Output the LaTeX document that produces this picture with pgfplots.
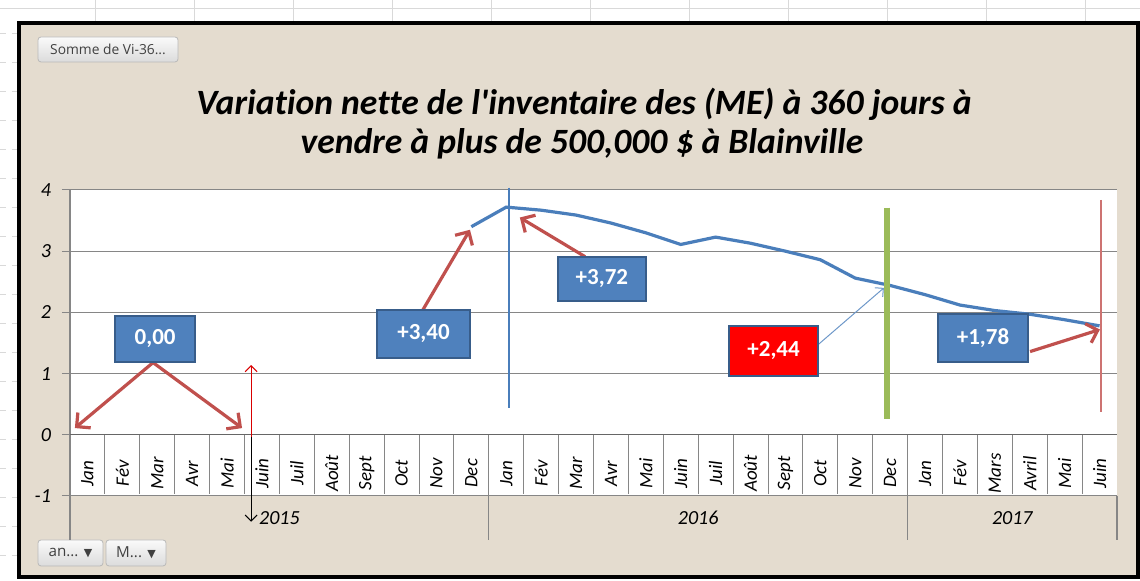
\documentclass[border=0pt]{standalone}
\usepackage{pgfplots}
\pgfplotsset{compat=1.18}
\usepackage{pgfplotstable}
\usepackage{fontspec}
\setmainfont{Carlito}[Ligatures={NoCommon}]
\newfontfamily\uifont{Open Sans}
\newfontfamily\symfont{DejaVu Sans}
\usetikzlibrary{arrows.meta}
\definecolor{parch}{RGB}{228,220,207}
\definecolor{lineblue}{RGB}{74,126,187}
\definecolor{boxblue}{RGB}{79,129,189}
\definecolor{boxborder}{RGB}{56,93,138}
\definecolor{arrred}{RGB}{192,80,77}
\definecolor{gridgray}{RGB}{134,134,134}
\definecolor{xlgreen}{RGB}{155,187,89}

\pgfplotstableread{
x y
11 3.40
12 3.72
13 3.67
14 3.59
15 3.46
16 3.30
17 3.11
18 3.23
19 3.13
20 3.00
21 2.86
22 2.56
23 2.44
24 2.29
25 2.12
26 2.03
27 1.97
28 1.88
29 1.78
}\datatable

\tikzset{
  redarr/.style={arrred, line width=1.6pt, -{Straight Barb[length=5pt,width=10pt]}},
  lbl/.style={fill=boxblue, draw=boxborder, line width=1pt, text=white,
     font=\bfseries\fontsize{11.5}{11.5}\selectfont, inner sep=0pt},
  btn/.style={top color=white!96!gray, bottom color=gray!28, draw=gray!55, rounded corners=1.5pt, line width=0.4pt}
}

\begin{document}
\begin{tikzpicture}
\path[use as bounding box] (-35pt,-42.5pt) rectangle (535pt,248pt);
\fill[white] (-35pt,-42.5pt) rectangle (535pt,248pt);
% spreadsheet grid outside frame
\foreach \k in {0,...,18} {
  \draw[gray!30, dashed, line width=0.4pt] (-35pt,{(496-33-29*\k)*0.5pt}) -- (-25.5pt,{(496-33-29*\k)*0.5pt});
}
\foreach \k in {0,...,10} {
  \draw[gray!30, line width=0.4pt] ({(95+99*\k-70)*0.5pt},248pt) -- ({(95+99*\k-70)*0.5pt},236.5pt);
}
\draw[gray!30, line width=0.4pt] (-35pt,244pt) -- (535pt,244pt);
% frame
\filldraw[fill=parch, draw=black, line width=1.6pt] (-25.5pt,-40.5pt) rectangle (534pt,236.5pt);
% buttons
\path[btn] (-16pt,217pt) rectangle (54pt,229.5pt);
\node[font=\uifont\fontsize{6.9}{6.9}\selectfont, text=black!75] at (19pt,223.3pt) {Somme de Vi-36...};
\path[btn] (-16pt,-35pt) rectangle (16.5pt,-22pt);
\node[font=\uifont\fontsize{7.6}{7.6}\selectfont, text=black!75] at (0.2pt,-28.5pt) {an... {\symfont\fontsize{5.5}{5.5}\selectfont ▼}};
\path[btn] (18pt,-35pt) rectangle (48pt,-22pt);
\node[font=\uifont\fontsize{7.6}{7.6}\selectfont, text=black!75] at (33pt,-28.5pt) {M... {\symfont\fontsize{5.5}{5.5}\selectfont ▼}};
% title
\node[anchor=base, font=\bfseries\itshape\fontsize{17.8}{17.8}\selectfont] at (257pt,190.5pt) {Variation nette de l\textquotesingle inventaire des (ME) à 360 jours à};
\node[anchor=base, font=\bfseries\itshape\fontsize{17.8}{17.8}\selectfont] at (256pt,171pt) {vendre à plus de 500,000 \$ à Blainville};

\begin{axis}[at={(0,0)}, anchor=south west, scale only axis,
  width=523.5pt, height=153pt,
  xmin=-0.5, xmax=29.5, ymin=-1, ymax=4, clip=false,
  axis background/.style={fill=white},
  axis line style={draw=none},
  ymajorgrids, grid style={gridgray, line width=0.5pt},
  ytick={-1,0,1,2,3,4}, ytick pos=left, tick align=outside, major tick length=4pt,
  ytick style={gridgray, line width=0.5pt},
  yticklabel style={font=\itshape\fontsize{10}{10}\selectfont, xshift=-2pt},
  /pgf/number format/assume math mode=true,
  xtick={0,...,29},
  xticklabels={Jan,Fév,Mar,Avr,Mai,Juin,Juil,Août,Sept,Oct,Nov,Dec,Jan,Fév,Mar,Avr,Mai,Juin,Juil,Août,Sept,Oct,Nov,Dec,Jan,Fév,Mars,Avril,Mai,Juin},
  xtick style={draw=none},
  xticklabel style={yshift=15.3pt, rotate=90, anchor=center, font=\itshape\fontsize{9.5}{9.5}\selectfont},
]
% separators
\foreach \i in {0,...,28} {
  \edef\tmp{\noexpand\draw[gridgray, line width=0.5pt] (axis cs:\i+0.5,0) -- (axis cs:\i+0.5,-0.96);}
  \tmp
}
\draw[gridgray, line width=0.6pt] (axis cs:-0.5,4) -- (axis cs:-0.5,-1.72);
\draw[gridgray, line width=0.6pt] (axis cs:11.5,-0.96) -- (axis cs:11.5,-1.72);
\draw[gridgray, line width=0.6pt] (axis cs:23.5,-0.96) -- (axis cs:23.5,-1.72);
\draw[gridgray, line width=0.6pt] (axis cs:29.5,-1) -- (axis cs:29.5,-1.72);
\draw[black!60, line width=0.7pt] (axis cs:-0.5,0) -- (axis cs:29.5,0);
% years
\node[font=\itshape\fontsize{10}{10}\selectfont] at (axis cs:5.5,-1.36) {2015};
\node[font=\itshape\fontsize{10}{10}\selectfont] at (axis cs:17.5,-1.36) {2016};
\node[font=\itshape\fontsize{10}{10}\selectfont] at (axis cs:26.5,-1.36) {2017};

\addplot[lineblue, line width=1.6pt, no marks] table[x=x, y=y] {\datatable};

% vertical marker lines
\draw[lineblue, line width=0.6pt] (axis cs:12.08,4.04) -- (axis cs:12.08,0.44);
\draw[xlgreen, line width=2.6pt] (axis cs:22.91,3.71) -- (axis cs:22.91,0.25);
\draw[arrred!80, line width=0.6pt] (axis cs:29.04,3.84) -- (axis cs:29.04,0.38);

% annotations
\draw[redarr] (axis cs:1.88,1.18) -- (axis cs:-0.36,0.11);
\draw[redarr] (axis cs:1.88,1.18) -- (axis cs:4.43,0.11);
\node[lbl, minimum width=40pt, minimum height=23pt] at (axis cs:1.94,1.57) {0,00};

\draw[red!85!black, line width=0.5pt, -{Straight Barb[length=3pt,width=6pt]}] (axis cs:4.69,-0.03) -- (axis cs:4.69,1.14);
\draw[black, line width=0.5pt, -{Straight Barb[length=3pt,width=6pt]}] (axis cs:4.69,-0.03) -- (axis cs:4.69,-1.42);

\draw[redarr] (axis cs:9.61,2.04) -- (axis cs:10.96,3.35);
\node[lbl, minimum width=46.5pt, minimum height=24pt] at (axis cs:9.63,1.65) {+3,40};

\draw[redarr] (axis cs:14.26,2.91) -- (axis cs:12.39,3.55);
\node[lbl, minimum width=44pt, minimum height=22pt] at (axis cs:14.74,2.55) {+3,72};

\draw[lineblue!80, line width=0.5pt, -{Straight Barb[length=3pt,width=6pt]}] (axis cs:20.93,1.47) -- (axis cs:22.82,2.40);
\node[lbl, fill=red, minimum width=44.5pt, minimum height=25pt] at (axis cs:19.66,1.37) {+2,44};

\draw[redarr] (axis cs:27.01,1.36) -- (axis cs:29.01,1.72);
\node[lbl, minimum width=45pt, minimum height=24pt] at (axis cs:25.66,1.58) {+1,78};
\end{axis}
\end{tikzpicture}
\end{document}
